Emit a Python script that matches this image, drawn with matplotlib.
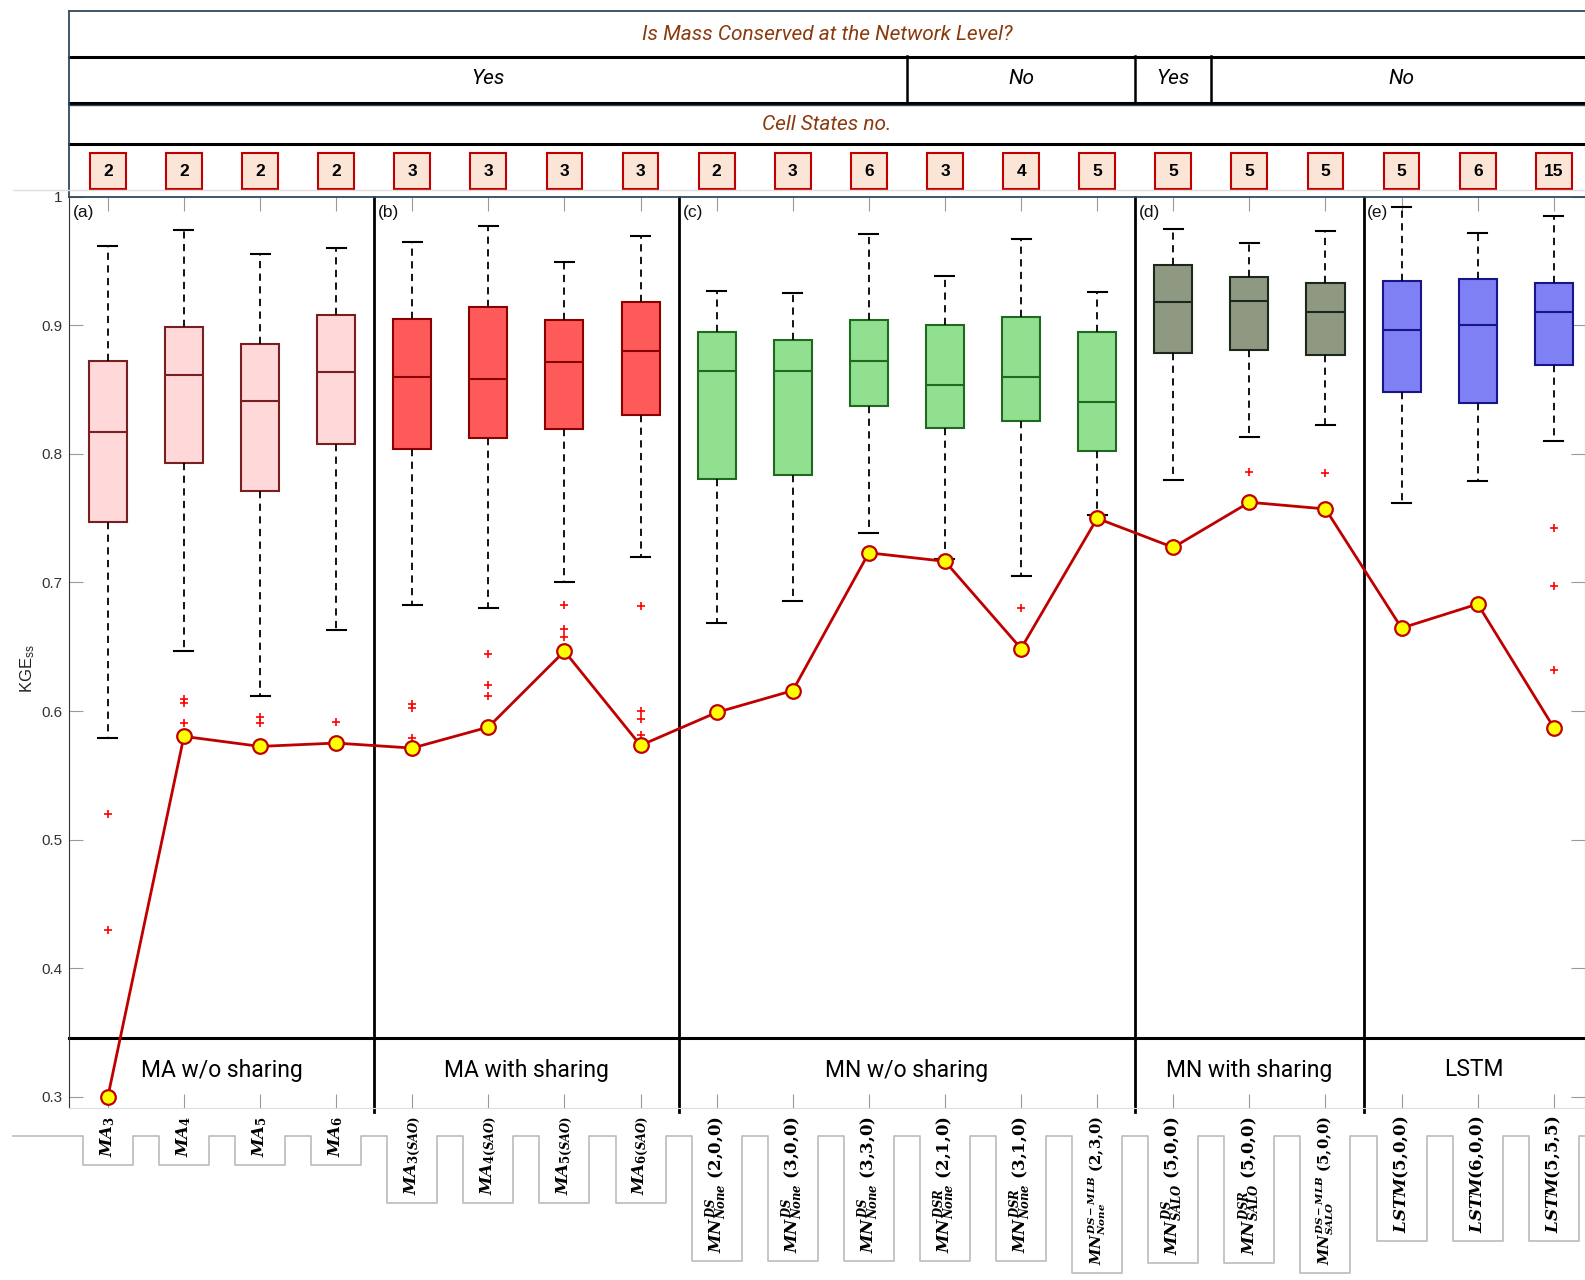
import matplotlib
matplotlib.use('Agg')
import matplotlib.pyplot as plt
from matplotlib.patches import Rectangle
from matplotlib.lines import Line2D
from matplotlib.transforms import blended_transform_factory, IdentityTransform

plt.rcParams['mathtext.fontset'] = 'custom'
plt.rcParams['mathtext.it'] = 'DejaVu Serif:italic:bold'
plt.rcParams['mathtext.rm'] = 'DejaVu Serif:bold'
plt.rcParams['mathtext.bf'] = 'DejaVu Serif:bold'
plt.rcParams['mathtext.sf'] = 'Liberation Sans'
plt.rcParams['font.family'] = ['Liberation Sans', 'DejaVu Sans']

# ---------------- data ----------------
model_labels = [
    r'$MA_3$', r'$MA_4$', r'$MA_5$', r'$MA_6$',
    r'$MA_{3(SAO)}$', r'$MA_{4(SAO)}$', r'$MA_{5(SAO)}$', r'$MA_{6(SAO)}$',
    r'$MN_{None}^{DS}\ (2{,}0{,}0)$', r'$MN_{None}^{DS}\ (3{,}0{,}0)$', r'$MN_{None}^{DS}\ (3{,}3{,}0)$',
    r'$MN_{None}^{DSR}\ (2{,}1{,}0)$', r'$MN_{None}^{DSR}\ (3{,}1{,}0)$', r'$MN_{None}^{DS-MLB}\ (2{,}3{,}0)$',
    r'$MN_{SALO}^{DS}\ (5{,}0{,}0)$', r'$MN_{SALO}^{DSR}\ (5{,}0{,}0)$', r'$MN_{SALO}^{DS-MLB}\ (5{,}0{,}0)$',
    r'$LSTM(5{,}0{,}0)$', r'$LSTM(6{,}0{,}0)$', r'$LSTM(5{,}5{,}5)$',
]
cell_states = [2, 2, 2, 2, 3, 3, 3, 3, 2, 3, 6, 3, 4, 5, 5, 5, 5, 5, 6, 15]
group_of_box = [0, 0, 0, 0, 1, 1, 1, 1, 2, 2, 2, 2, 2, 2, 3, 3, 3, 4, 4, 4]
group_names = ['MA w/o sharing', 'MA with sharing', 'MN w/o sharing', 'MN with sharing', 'LSTM']
panel_tags = ['(a)', '(b)', '(c)', '(d)', '(e)']

whis_hi = [0.9617, 0.9736, 0.9551, 0.9603, 0.9647, 0.9769, 0.9492, 0.9694,
           0.9266, 0.9251, 0.9712, 0.9385, 0.9671, 0.9260,
           0.9751, 0.9642, 0.9728, 0.9917, 0.9715, 0.9852]
q3 = [0.8719, 0.8986, 0.8854, 0.9080, 0.9046, 0.9141, 0.9040, 0.9183,
      0.8945, 0.8882, 0.9037, 0.8998, 0.9064, 0.8948,
      0.9471, 0.9373, 0.9329, 0.9344, 0.9357, 0.9329]
median = [0.8170, 0.8613, 0.8408, 0.8634, 0.8593, 0.8581, 0.8711, 0.8798,
          0.8647, 0.8641, 0.8718, 0.8534, 0.8593, 0.8403,
          0.9181, 0.9189, 0.9103, 0.8963, 0.9004, 0.9103]
q1 = [0.7470, 0.7931, 0.7713, 0.8077, 0.8034, 0.8120, 0.8195, 0.8301,
      0.7804, 0.7835, 0.8370, 0.8200, 0.8251, 0.8025,
      0.8784, 0.8808, 0.8766, 0.8478, 0.8398, 0.8693]
whis_lo = [0.5790, 0.6469, 0.6119, 0.6632, 0.6828, 0.6799, 0.7001, 0.7195,
           0.6682, 0.6858, 0.7387, 0.7185, 0.7052, 0.7525,
           0.7799, 0.8128, 0.8224, 0.7620, 0.7786, 0.8103]
outliers = [
    [0.520, 0.430], [0.6093, 0.6062, 0.5906], [0.5950, 0.5904], [0.5911],
    [0.6054, 0.6025, 0.5787], [0.6447, 0.6203, 0.6120], [0.6828, 0.6641, 0.6575],
    [0.6820, 0.6000, 0.5935, 0.5816],
    [], [], [], [], [0.6799], [],
    [], [0.7859], [0.7848],
    [], [], [0.7423, 0.6969, 0.6316],
]
min_kge = [0.3000, 0.5803, 0.5725, 0.5751, 0.5712, 0.5875, 0.6465, 0.5733,
           0.5989, 0.6159, 0.7230, 0.7164, 0.6486, 0.7498,
           0.7272, 0.7623, 0.7571, 0.6645, 0.6832, 0.5871]

mass_labels = ['Yes', 'No', 'Yes', 'No']
mass_bounds = [0.5, 11.5, 14.5, 15.5, 20.5]

fills = ['#FFD9DA', '#FF5A5A', '#90E090', '#8F9982', '#8080F5']
edges = ['#7A1F1F', '#8B0000', '#1F6A1F', '#1C281C', '#16168A']

# ---------------- layout ----------------
W, H = 1585, 1280
fig = plt.figure(figsize=(W / 100, H / 100), dpi=100)


def fy(px):
    return 1 - px / H


ax_left, ax_top, ax_bot = 69, 196.5, 1108
ax = fig.add_axes([ax_left / W, fy(ax_bot), 1 - ax_left / W, (ax_bot - ax_top) / H])
x0, x1 = 0.49, 20.41
ax.set_xlim(x0, x1)
ax.set_ylim(0.2914, 1.0)
trans = blended_transform_factory(ax.transData, fig.transFigure)

pos = list(range(1, len(model_labels) + 1))
stats = []
for i in range(len(pos)):
    stats.append(dict(med=median[i], q1=q1[i], q3=q3[i], whislo=whis_lo[i],
                      whishi=whis_hi[i], fliers=outliers[i]))

res = ax.bxp(stats, positions=pos, widths=0.5, patch_artist=True, manage_ticks=False,
             capwidths=0.25,
             whiskerprops=dict(color='black', linestyle=(0, (4, 3)), linewidth=1.3),
             capprops=dict(color='black', linewidth=1.5),
             flierprops=dict(marker='+', markeredgecolor='red', markersize=6,
                             markeredgewidth=1.2, linestyle='none'),
             zorder=3)
for i, b in enumerate(res['boxes']):
    g = group_of_box[i]
    b.set_facecolor(fills[g])
    b.set_edgecolor(edges[g])
    b.set_linewidth(1.5)
    res['medians'][i].set_color(edges[g])
    res['medians'][i].set_linewidth(1.5)

ax.plot(pos, min_kge, color='#C00000', lw=2, marker='o', markersize=10.5,
        markerfacecolor='#FFFF00', markeredgecolor='#C00000', markeredgewidth=1.6,
        zorder=6, clip_on=False)

# ticks & spines
ax.set_xticks(pos)
ax.set_yticks([0.3, 0.4, 0.5, 0.6, 0.7, 0.8, 0.9, 1.0])
ax.set_yticklabels(['0.3', '0.4', '0.5', '0.6', '0.7', '0.8', '0.9', '1'])
ax.tick_params(axis='both', direction='in', length=10, width=0.8, color='#9A9A9A',
               top=True, right=True, labelbottom=False, labelsize=11,
               labelcolor='#333333', pad=5)
ax.spines['left'].set_color('#333333')
ax.spines['bottom'].set_color('#DDDDDD')
ax.spines['top'].set_color('#2F4A5A')
ax.spines['top'].set_linewidth(1.3)
ax.spines['right'].set_color('#999999')

fig.text(28 / W, fy(669), r'KGE$_{\mathsf{ss}}$', rotation=90, ha='center', va='center',
         fontsize=12, color='#222222')

# group separators, bottom band
group_edges = [x0, 4.5, 8.5, 14.5, 17.5, x1]
for s in group_edges[1:-1]:
    ax.add_artist(Line2D([s, s], [fy(ax_top), fy(1112)], transform=trans, color='black',
                         lw=2, clip_on=False, zorder=2))
ax.add_artist(Line2D([x0, x1], [fy(1038), fy(1038)], transform=trans, color='black',
                     lw=2.2, clip_on=False, zorder=2))
for g in range(5):
    cx = (group_edges[g] + group_edges[g + 1]) / 2
    ax.text(cx, fy(1070), group_names[g], transform=trans, ha='center', va='center',
            fontsize=16.5, family='Roboto', color='black')
    ax.text(group_edges[g] + 0.05, fy(213), panel_tags[g], transform=trans, ha='left',
            va='center', fontsize=12.5, color='#111111')

# ---------------- header table ----------------
def hline(y, color='black', lw=2.2, xa=x0, xb=x1):
    fig.add_artist(Line2D([xa, xb], [fy(y), fy(y)], transform=trans, color=color, lw=lw))


def vline(x, ya, yb, color='black', lw=1.8):
    fig.add_artist(Line2D([x, x], [fy(ya), fy(yb)], transform=trans, color=color, lw=lw))


hline(10.5, color='#2F4A5A', lw=1.3)
hline(57)
hline(102.5)
hline(104.5, color='#2F4A5A', lw=1.0)
hline(144)
vline(x0 + 0.005, 10.5, 196.5, color='#2F4A5A', lw=1.3)
for b in mass_bounds[1:-1]:
    vline(b, 56, 102)

brown = '#8B3A0E'
fig.text(0.5 * (x0 + x1), fy(34.5), 'Is Mass Conserved at the Network Level?', transform=trans,
         ha='center', va='center', fontsize=15, style='italic', family='Roboto', color=brown)
fig.text(0.5 * (x0 + x1), fy(124.5), 'Cell States no.', transform=trans,
         ha='center', va='center', fontsize=15, style='italic', family='Roboto', color=brown)
for k, lab in enumerate(mass_labels):
    cx = 0.5 * (mass_bounds[k] + mass_bounds[k + 1])
    fig.text(cx, fy(79), lab, transform=trans, ha='center', va='center', fontsize=15,
             style='italic', family='Roboto', color='black')

fig.add_artist(Line2D([13 / W, 1], [fy(189.5), fy(189.5)], transform=fig.transFigure,
                      color='#DDDDDD', lw=1))
for p, c in zip(pos, cell_states):
    fig.add_artist(Rectangle((p - 0.235, fy(189)), 0.47, fy(153) - fy(189), transform=trans,
                             facecolor='#FBE5D6', edgecolor='#C00000', lw=1.5))
    fig.text(p, fy(171), str(c), transform=trans, ha='center', va='center', fontsize=12.5,
             fontweight='bold', color='black')

# ---------------- rotated model labels with step outline ----------------
tick_texts = []
for p, lab in zip(pos, model_labels):
    fs = 10.6 if 'MLB' in lab else 12
    t = fig.text(p, fy(1116), lab, transform=trans, rotation=90, ha='center', va='top',
                 fontsize=fs, color='black')
    tick_texts.append(t)

fig.canvas.draw()
renderer = fig.canvas.get_renderer()
yl = H - 1136
xs, ys = [13], [yl]
for p, t in zip(pos, tick_texts):
    bb = t.get_window_extent(renderer)
    cx = ax.transData.transform((p, 0.5))[0]
    bot = max(bb.y0 - 8, -2)
    xs += [cx - 25, cx - 25, cx + 25, cx + 25]
    ys += [yl, bot, bot, yl]
xs.append(W)
ys.append(yl)
fig.add_artist(Line2D(xs, ys, transform=IdentityTransform(), color='#BBBBBB', lw=1.2))

fig.savefig('out.png', dpi=100)
